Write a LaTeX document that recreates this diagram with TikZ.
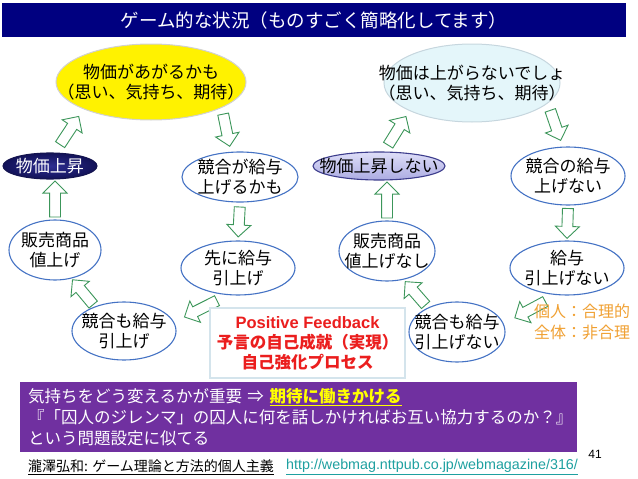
\documentclass[tikz,border=0pt]{standalone}
\usepackage{fontspec}
\setmainfont{Noto Sans CJK JP}
\newfontfamily\latinfont{Liberation Sans}
\usetikzlibrary{shapes.geometric,shapes.arrows,calc}

\definecolor{titlenavy}{RGB}{0,0,128}
\definecolor{ovalblue}{RGB}{68,114,196}
\definecolor{arrowgreen}{RGB}{60,150,90}
\definecolor{boxpurple}{RGB}{112,48,160}
\definecolor{hiyellow}{RGB}{255,255,0}
\definecolor{noteorange}{RGB}{240,160,50}
\definecolor{fbred}{RGB}{235,30,30}
\definecolor{linkteal}{RGB}{30,160,160}
\definecolor{framegray}{RGB}{212,228,236}
\definecolor{hopecyan}{RGB}{228,246,250}

% hollow block arrow between two points, shortened by #1 pt at each end
\newcommand{\hollowarrow}[3][6]{%
  \path let \p1=($(#3)-(#2)$), \n1={atan2(\y1,\x1)}, \n2={veclen(\x1,\y1)-2*#1} in
    ($(#2)!#1pt!(#3)$) node[blockarrow, minimum height=\n2, rotate=\n1, anchor=tail] {};
}

\begin{document}
\begin{tikzpicture}[
    x=1pt, y=-1pt,
    oval/.style={ellipse, draw=ovalblue, line width=1.1pt, fill=white, inner sep=0pt},
    dims/.style 2 args={minimum width=#1, minimum height=#2},
    ovaltext/.style={align=center, inner sep=0pt, font=\fontsize{17}{20.5}\selectfont},
    blockarrow/.style={single arrow, draw=arrowgreen, fill=white, line width=0.9pt,
                       inner xsep=0pt, inner ysep=5pt, single arrow head extend=6.5pt,
                       single arrow tip angle=90},
]
\useasboundingbox (0,0) rectangle (638,479);

% Title bar
\node[fill=titlenavy, minimum width=624, minimum height=34, inner sep=0pt,
      text=white, font=\fontsize{18.5}{20}\selectfont] (title) at (314,20)
    {ゲーム的な状況（ものすごく簡略化してます）};

% Left loop: price goes up
\node[oval, dims={190}{76}, fill=yellow, draw=black!18, line width=1pt] (goodmood) at (151,82) {};
\node[ovaltext] at (goodmood) {物価があがるかも\\（思い、気持ち、期待）};

\node[oval, dims={94}{26}, draw={rgb,255:red,20;green,20;blue,80},
      inner color={rgb,255:red,45;green,45;blue,145}, outer color={rgb,255:red,18;green,18;blue,88}] (priceup) at (50,166) {};
\node[ovaltext, text=white] at (priceup) {物価上昇};

\node[oval, dims={116}{50}] (rivalup) at (240,177) {};
\node[ovaltext] at (rivalup) {競合が給与\\上げるかも};

\node[oval, dims={92}{60}] (saleup) at (55,250) {};
\node[ovaltext] at (saleup) {販売商品\\値上げ};

\node[oval, dims={114}{54}] (payup) at (238,268) {};
\node[ovaltext] at (payup) {先に給与\\引上げ};

\node[oval, dims={104}{58}] (rivalpay) at (124,331) {};
\node[ovaltext] at (rivalpay) {競合も給与\\引上げ};

% Right loop: price stays
\node[oval, dims={176}{78}, fill=hopecyan, draw={rgb,255:red,198;green,214;blue,222}, line width=1pt] (badmood) at (472,83) {};
\node[ovaltext] at (badmood) {物価は上がらないでしょ\\（思い、気持ち、期待）};

\node[oval, dims={132}{28}, draw={rgb,255:red,60;green,60;blue,140},
      top color={rgb,255:red,222;green,222;blue,248}, bottom color={rgb,255:red,172;green,172;blue,226}] (pricestay) at (379,166) {};
\node[ovaltext] at (pricestay) {物価上昇しない};

\node[oval, dims={114}{58}] (rivalno) at (568,176) {};
\node[ovaltext] at (rivalno) {競合の給与\\上げない};

\node[oval, dims={96}{60}] (saleno) at (387,251) {};
\node[ovaltext] at (saleno) {販売商品\\値上げなし};

\node[oval, dims={114}{54}] (paynot) at (567,268) {};
\node[ovaltext] at (paynot) {給与\\引上げない};

\node[oval, dims={96}{60}] (rivalnot) at (457,332) {};
\node[ovaltext] at (rivalnot) {競合も給与\\引上げない};

% Loop arrows
\coordinate (a6end) at (saleup.north |- priceup.south);
\coordinate (b6end) at (saleno.north |- pricestay.south);
\hollowarrow[9]{priceup.70}{goodmood.south west}
\hollowarrow[6]{goodmood.-20}{rivalup.110}
\hollowarrow[4]{rivalup.south}{payup.north}
\hollowarrow[12]{payup.-110}{rivalpay.10}
\hollowarrow[2]{rivalpay.140}{saleup.-60}
\hollowarrow[2]{saleup.north}{a6end}
\hollowarrow[7]{pricestay.70}{badmood.south west}
\hollowarrow[7]{badmood.-15}{rivalno.100}
\hollowarrow[2.5]{rivalno.south}{paynot.north}
\hollowarrow[13]{paynot.-110}{rivalnot.10}
\hollowarrow[3]{rivalnot.140}{saleno.-60}
\hollowarrow[2]{saleno.north}{b6end}

% Feedback box and side note
\node[draw=framegray, line width=2pt, fill=white, minimum width=195, minimum height=70,
      align=center, text=fbred, font=\fontsize{16.5}{20}\selectfont\bfseries] (feedback) at (307.5,343)
    {{\latinfont Positive Feedback}\\予言の自己成就（実現）\\自己強化プロセス};
\node[align=center, text=noteorange, font=\fontsize{16}{21}\selectfont] (verdict) at (582,322)
    {個人：合理的\\全体：非合理};

% Purple note
\node[fill=boxpurple, minimum width=557, minimum height=70, inner xsep=8pt, inner ysep=0pt,
      text width=541, align=left, text=white, font=\fontsize{16.5}{21}\selectfont] (note) at (298.5,417)
    {気持ちをどう変えるかが重要 ⇒ \textcolor{hiyellow}{\bfseries\underline{期待に働きかける}}\\
     『「囚人のジレンマ」の囚人に何を話しかければお互い協力するのか？』\\
     という問題設定に似てる};

\node[font=\latinfont\fontsize{12}{12}\selectfont] (pageno) at (595,454) {41};

% Footer
\node[anchor=west, inner sep=0pt, font=\fontsize{14}{14}\selectfont] (cite) at (28,467)
    {\underline{瀧澤弘和: ゲーム理論と方法的個人主義}};
\node[anchor=west, inner sep=0pt, text=linkteal, font=\latinfont\fontsize{14.3}{14}\selectfont] (url) at (286,467)
    {\underline{http://webmag.nttpub.co.jp/webmagazine/316/}};

\end{tikzpicture}
\end{document}
